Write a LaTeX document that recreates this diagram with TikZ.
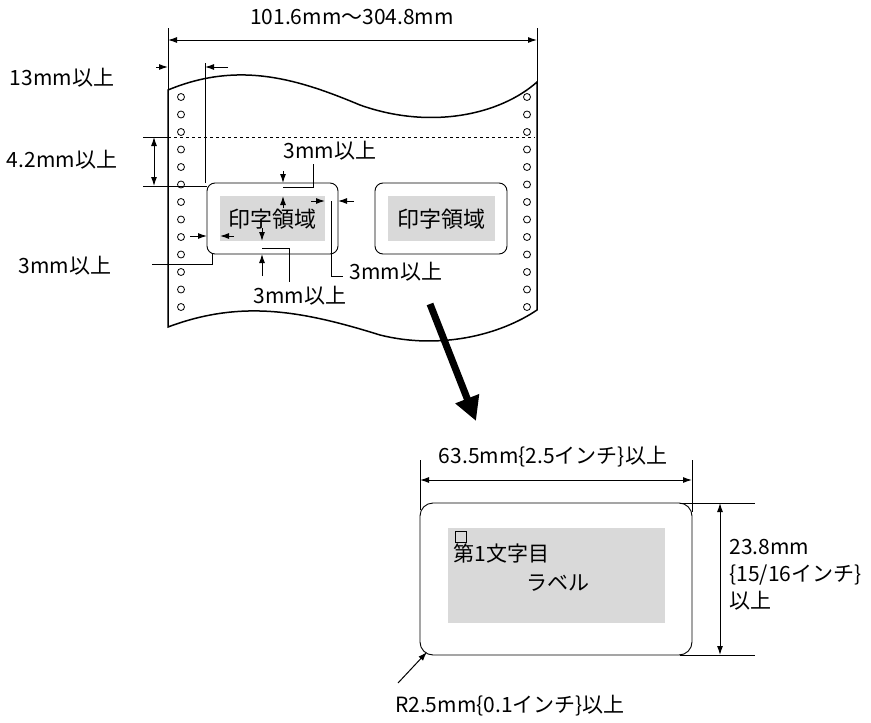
\documentclass[tikz,border=0pt]{standalone}
\usepackage{fontspec}
\setmainfont{Noto Sans CJK JP}
\usetikzlibrary{arrows.meta}
\begin{document}
\begin{tikzpicture}[x=1pt,y=-1pt,
  lab/.style={font=\fontsize{21}{25}\selectfont},
  dim/.style={line width=1pt,{Latex[length=9pt,width=6pt]}-{Latex[length=9pt,width=6pt]}},
  tip/.style={line width=1pt,-{Latex[length=9pt,width=6pt]}},
  thin/.style={line width=0.9pt},
  hole/.style={draw,line width=0.8pt,circle,minimum size=7pt,inner sep=0pt}]
\useasboundingbox (0,0) rectangle (871,723);
% paper
\draw[line width=1.5pt] (168,90) .. controls (240,60) and (300,80) .. (360,105) .. controls (430,130) and (500,115) .. (537,82)
  -- (537,310) .. controls (500,335) and (440,350) .. (380,335) .. controls (300,310) and (240,300) .. (168,327) -- cycle;
\foreach \i in {0,...,12} {
  \node[hole] (l\i) at (181,97+17.5*\i) {};
  \node[hole] (r\i) at (527,97+17.5*\i) {};
}
\draw[dashed,thin] (150,137) -- (535,137);
% boxes
\draw[thin,rounded corners=8pt] (207,183) rectangle (338,254);
\fill[gray!30] (220,196) rectangle (325,241);
\node[lab,font=\fontsize{22}{24}\selectfont] (p1) at (272,219) {印字領域};
\draw[thin,rounded corners=8pt] (375,183) rectangle (507,254);
\fill[gray!30] (388,196) rectangle (495,241);
\node[lab,font=\fontsize{22}{24}\selectfont] (p2) at (441,219) {印字領域};
% top dimension
\draw[thin] (168,28) -- (168,90);
\draw[thin] (537,28) -- (537,82);
\draw[dim] (168,40) -- (537,40);
\node[lab] (t1) at (352,17) {101.6mm～304.8mm};
% 13mm
\draw[thin] (205,63) -- (205,183);
\draw[tip] (156,67) -- (168,67);
\draw[tip] (228,67) -- (205,67);
\node[lab] (t2) at (62,78) {13mm以上};
% 4.2mm
\draw[thin] (143,137) -- (168,137);
\draw[thin] (143,186) -- (207,186);
\draw[dim] (154,137) -- (154,186);
\node[lab] (t3) at (62,160) {4.2mm以上};
% 3mm top
\draw[tip] (283,171) -- (283,183);
\draw[tip] (283,208) -- (283,196);
\draw[thin] (283,187) -- (313,187) -- (313,164);
\node[lab] (t4) at (330,151) {3mm以上};
% 3mm right
\draw[tip] (311,201) -- (325,201);
\draw[tip] (354,201) -- (338,201);
\draw[thin] (331,201) -- (331,276) -- (343,276);
\node[lab] (t5) at (396,272) {3mm以上};
% 3mm left
\draw[tip] (190,236) -- (207,236);
\draw[tip] (234,236) -- (220,236);
\draw[thin] (152,264) -- (212,264) -- (212,254);
\node[lab] (t6) at (65,266) {3mm以上};
% 3mm bottom
\draw[tip] (262,228) -- (262,241);
\draw[tip] (262,276) -- (262,254);
\draw[thin] (262,248) -- (289,248) -- (289,282);
\node[lab] (t7) at (300,296) {3mm以上};
% big arrow
\draw[line width=7pt,-{Triangle[length=24pt,width=24pt]}] (430,304) -- (476,421);
% label
\draw[thin,rounded corners=13pt] (420,503) rectangle (692,655);
\fill[gray!30] (448,528) rectangle (665,623);
\draw[thin] (455,531) rectangle (466,542);
\node[lab,anchor=west] (f1) at (450,553) {第1文字目};
\node[lab] (f2) at (558,583) {ラベル};
\draw[thin] (420,460) -- (420,510);
\draw[thin] (692,460) -- (692,512);
\draw[dim] (420,480) -- (692,480);
\node[lab] (t8) at (553,457) {63.5mm\{2.5インチ\}以上};
\draw[thin] (680,503) -- (755,503);
\draw[thin] (680,655) -- (755,655);
\draw[dim] (720,503) -- (720,655);
\node[lab,anchor=west,align=left,font=\fontsize{21}{27}\selectfont] (t9) at (726,575) {23.8mm\\\{15/16インチ\}\\以上};
\draw[tip] (398,683) -- (427,652);
\node[lab] (t10) at (510,706) {R2.5mm\{0.1インチ\}以上};
\end{tikzpicture}
\end{document}
